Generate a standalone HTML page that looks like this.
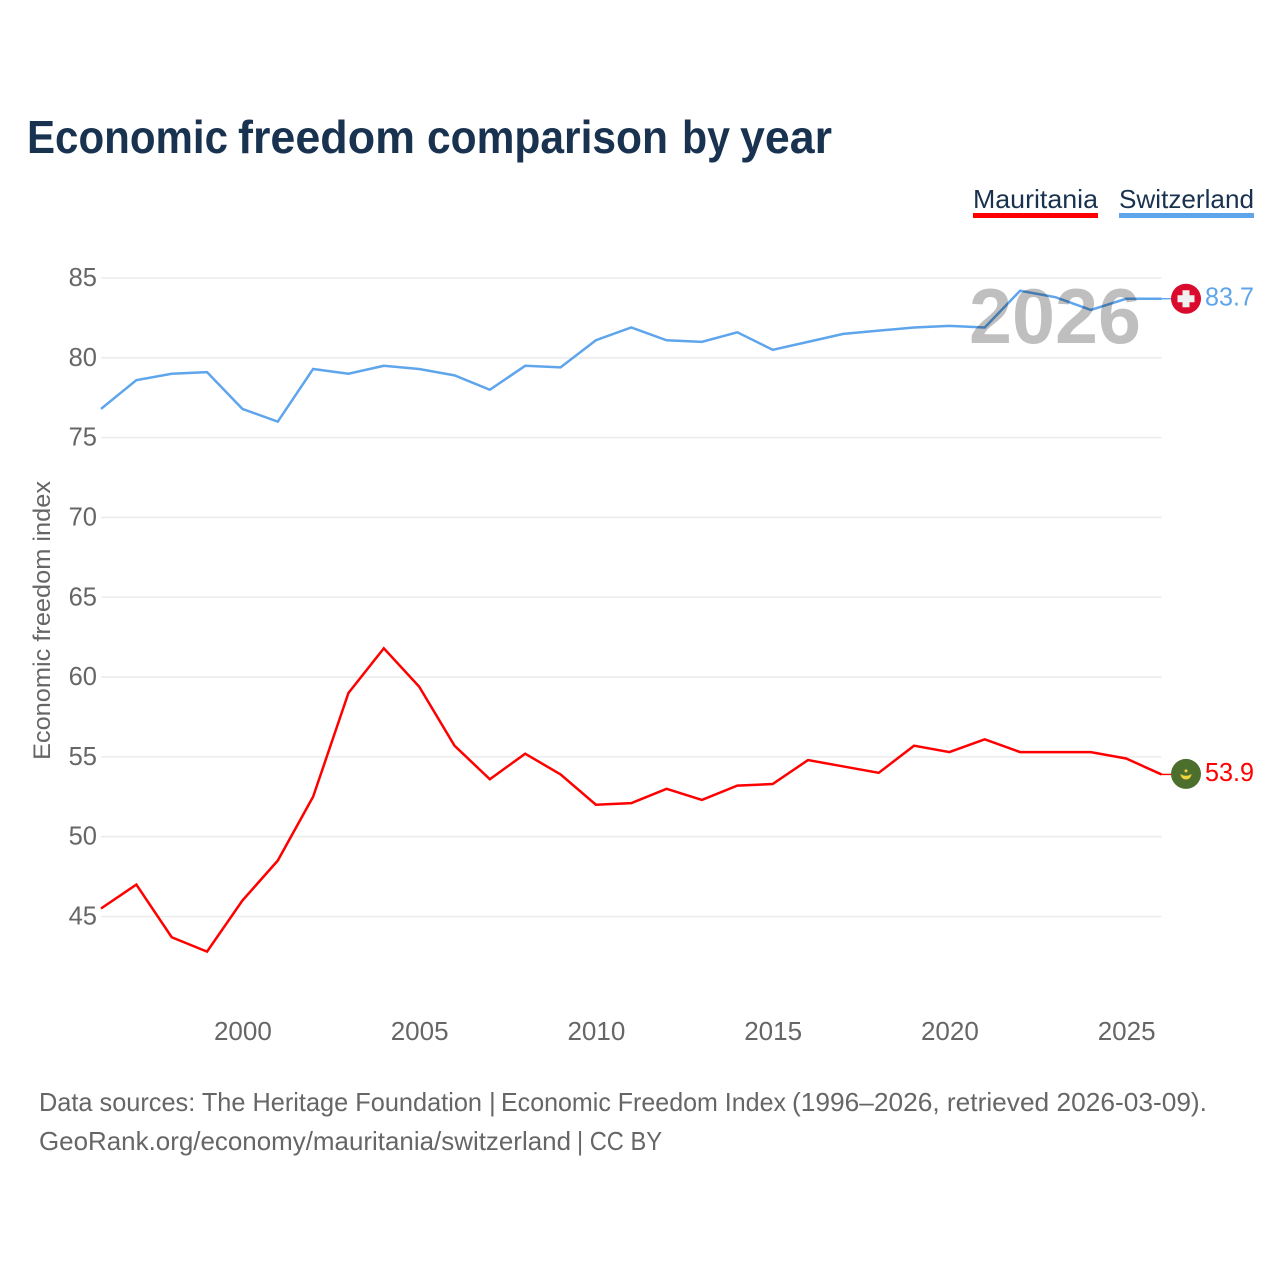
<!DOCTYPE html>
<html lang="en">
<head>
<meta charset="utf-8">
<title>Economic freedom comparison by year</title>
<style>
html,body{margin:0;padding:0;background:#fff;width:1280px;height:1280px;overflow:hidden}
svg{display:block}
text{font-family:"Liberation Sans",sans-serif}
</style>
</head>
<body>
<svg id="chart" xmlns="http://www.w3.org/2000/svg" width="1280" height="1280" viewBox="0 0 1280 1280">
  <rect x="0" y="0" width="1280" height="1280" fill="#ffffff"/>
  <g font-size="46" font-weight="700" fill="#18324f">
    <text x="27" y="153" textLength="201" lengthAdjust="spacingAndGlyphs">Economic</text>
    <text x="238" y="153" textLength="177" lengthAdjust="spacingAndGlyphs">freedom</text>
    <text x="427" y="153" textLength="241" lengthAdjust="spacingAndGlyphs">comparison</text>
    <text x="682" y="153" textLength="48" lengthAdjust="spacingAndGlyphs">by</text>
    <text x="740" y="153" textLength="92" lengthAdjust="spacingAndGlyphs">year</text>
  </g>

  <g>
    <text x="973" y="208" font-size="26" fill="#18324f" textLength="125" lengthAdjust="spacingAndGlyphs">Mauritania</text>
    <rect x="973" y="213" width="125" height="5" fill="#ff0000"/>
  </g>
  <g>
    <text x="1119" y="208" font-size="26" fill="#18324f" textLength="135" lengthAdjust="spacingAndGlyphs">Switzerland</text>
    <rect x="1119" y="213" width="135" height="5" fill="#5ea5ec"/>
  </g>

  <g id="grid"></g>
  <g id="yticks"></g>
  <g id="xticks"></g>
  <text transform="translate(50,620.5) rotate(-90)" text-anchor="middle" font-size="24" fill="#666666" textLength="279" lengthAdjust="spacingAndGlyphs">Economic freedom index</text>

  <g id="series"></g>

  <text x="969" y="343" font-size="78" font-weight="700" fill="#000000" fill-opacity="0.25" textLength="172" lengthAdjust="spacingAndGlyphs">2026</text>

  <g id="ends"></g>

  <g font-size="26" fill="#666666">
    <text x="39" y="1111" textLength="443" lengthAdjust="spacingAndGlyphs">Data sources: The Heritage Foundation</text>
    <text x="489" y="1111">|</text>
    <text x="501" y="1111" textLength="285" lengthAdjust="spacingAndGlyphs">Economic Freedom Index</text>
    <text x="792" y="1111" textLength="415" lengthAdjust="spacingAndGlyphs">(1996–2026, retrieved 2026-03-09).</text>
  </g>
  <g font-size="26" fill="#666666">
    <text x="39" y="1150" textLength="532" lengthAdjust="spacingAndGlyphs">GeoRank.org/economy/mauritania/switzerland</text>
    <text x="577" y="1150" textLength="85" lengthAdjust="spacingAndGlyphs">| CC BY</text>
  </g>
</svg>
<script>
const years = [1996,1997,1998,1999,2000,2001,2002,2003,2004,2005,2006,2007,2008,2009,2010,2011,2012,2013,2014,2015,2016,2017,2018,2019,2020,2021,2022,2023,2024,2025,2026];
const mauritaniaValues = [45.5,47.0,43.7,42.8,46.0,48.5,52.5,59.0,61.8,59.4,55.7,53.6,55.2,53.9,52.0,52.1,53.0,52.3,53.2,53.3,54.8,54.4,54.0,55.7,55.3,56.1,55.3,55.3,55.3,54.9,53.9];
const switzerlandValues = [76.8,78.6,79.0,79.1,76.8,76.0,79.3,79.0,79.5,79.3,78.9,78.0,79.5,79.4,81.1,81.9,81.1,81.0,81.6,80.5,81.0,81.5,81.7,81.9,82.0,81.9,84.2,83.8,83.0,83.7,83.7];
const yTickValues = [45,50,55,60,65,70,75,80,85];
const xTickValues = [2000,2005,2010,2015,2020,2025];

const NS = 'http://www.w3.org/2000/svg';
const X0 = 101, X1 = 1161.5, Y45 = 916.5, Y85 = 278;
function xScale(year) { return X0 + (year - 1996) * (X1 - X0) / (2026 - 1996); }
function yScale(value) { return Y45 - (value - 45) * (Y45 - Y85) / (85 - 45); }
function make(tag, parent, attrs) {
  const el = document.createElementNS(NS, tag);
  for (const k in attrs) el.setAttribute(k, attrs[k]);
  parent.appendChild(el);
  return el;
}

const grid = document.getElementById('grid');
const yticks = document.getElementById('yticks');
const xticks = document.getElementById('xticks');
const series = document.getElementById('series');
const ends = document.getElementById('ends');

yTickValues.forEach(function (v) {
  const line = make('line', grid, {x1: X0, x2: X1, y1: yScale(v), y2: yScale(v), stroke: '#ececec', 'stroke-width': 1.6});
  
  
  const label = make('text', yticks, {x: 97, y: yScale(v) + 8, 'text-anchor': 'end', 'font-size': 25.5, fill: '#666666'});
  
  
  label.textContent = String(v);
});

xTickValues.forEach(function (v) {
  const label = make('text', xticks, {x: xScale(v) + 0.5, y: 1040, 'text-anchor': 'middle', 'font-size': 26, fill: '#666666'});
  
  
  label.textContent = String(v);
});

function drawSeries(values, color, slug) {
  const pts = values.map(function (v, i) { return xScale(years[i]).toFixed(2) + ',' + yScale(v).toFixed(2); }).join(' ');
  const line = make('polyline', series, {points: pts, fill: 'none', stroke: color, 'stroke-width': 2.5, 'stroke-linejoin': 'miter'});
  
  

  const last = values[values.length - 1];
  const yEnd = yScale(last);
  const conn = make('line', ends, {x1: X1, x2: 1172, y1: yEnd, y2: yEnd, stroke: color, 'stroke-width': 1.4});
  
  

  const label = make('text', ends, {x: 1205, y: yEnd + 6.5, 'font-size': 26, fill: color, textLength: 49, lengthAdjust: 'spacingAndGlyphs'});
  
  
  label.textContent = last.toFixed(1);
  return yEnd;
}

const yCh = drawSeries(switzerlandValues, '#5ea5ec', 'switzerland');
const yMr = drawSeries(mauritaniaValues, '#ff0000', 'mauritania');

const flagCh = make('g', ends, {transform: 'translate(1186,' + yCh + ')'});


make('circle', flagCh, {cx: 0, cy: 0, r: 15, fill: '#da0a2e'});
make('path', flagCh, {d: 'M-3.5-8.5H3.5V-3.5H8.5V3.5H3.5V8.5H-3.5V3.5H-8.5V-3.5H-3.5Z', fill: '#f0f0f0'});

const flagMr = make('g', ends, {transform: 'translate(1186,' + (yMr - 0.5) + ')'});


make('circle', flagMr, {cx: 0, cy: 0, r: 15, fill: '#4d6f2d'});
make('path', flagMr, {d: 'M-5.5 0A5.5 5.5 0 0 0 5.5 0A6.5 4 0 0 1-5.5 0Z', fill: '#f2d33d'});
make('circle', flagMr, {cx: 0, cy: -3, r: 1.5, fill: '#f2d33d'});
</script>
</body>
</html>
